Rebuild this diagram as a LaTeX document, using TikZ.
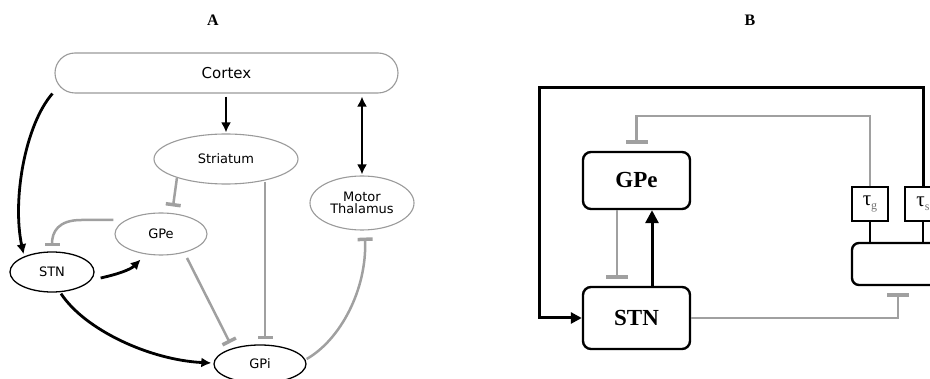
\documentclass[tikz,border=0pt]{standalone}
\usepackage{fontspec}
\setmainfont{Liberation Serif}
\newfontfamily\sansA{DejaVu Sans}
\usetikzlibrary{arrows.meta,shapes.geometric,calc}
\definecolor{inhgray}{HTML}{A0A0A0}
\definecolor{edgegray}{HTML}{9A9A9A}
\begin{document}
\begin{tikzpicture}[x=1pt,y=-1pt,
  ellA/.style={ellipse, draw=edgegray, line width=1.1pt, inner sep=0pt, align=center,
    font=\sansA\fontsize{13}{14}\selectfont},
  ellAk/.style={ellA, draw=black, line width=1.3pt},
  excA/.style={line width=2.8pt, -{Latex[length=10pt,width=10pt]}},
  dblA/.style={line width=2.8pt, {Latex[length=10pt,width=10pt]}-{Latex[length=10pt,width=10pt]}},
  inhA/.style={line width=2.5pt, draw=inhgray, -{Bar[width=15pt,line width=3.5pt]}},
  boxB/.style={draw, line width=2.4pt, rounded corners=8pt, minimum width=107pt,
    font=\bfseries\fontsize{23}{24}\selectfont},
  taubox/.style={draw, line width=1.4pt, minimum width=36pt, minimum height=34pt, inner sep=0pt,
    font=\fontsize{21}{22}\selectfont},
  excB/.style={line width=3pt, -{Triangle[length=13pt,width=13pt]}},
  inhB/.style={line width=2.5pt, draw=inhgray, -{Bar[width=22pt,line width=4pt]}},
  linkB/.style={line width=2.5pt},
  title/.style={font=\bfseries\fontsize{16}{18}\selectfont}
]
\useasboundingbox (0,0) rectangle (930,379);
\clip (0,0) rectangle (930,379);

% ---------- Panel A ----------
\node[title] (tA) at (213,20) {A};
\node[draw=edgegray, line width=1.1pt, rounded corners=20pt, minimum width=343pt,
  minimum height=40pt, font=\sansA\fontsize{15}{16}\selectfont] (cortex) at (226.5,73) {Cortex};
\node[ellA, minimum width=144pt, minimum height=50pt] (striatum) at (226,159) {Striatum};
\node[ellA, minimum width=104pt, minimum height=54pt] (thal) at (362,203) {Motor\\[-2pt]Thalamus};
\node[ellA, minimum width=92pt, minimum height=42pt] (gpe) at (161,234) {GPe};
\node[ellAk, minimum width=84pt, minimum height=40pt] (stn) at (52,272) {STN};
\node[ellAk, minimum width=92pt, minimum height=38pt] (gpi) at (260,364) {GPi};

\draw[excA, shorten <=3pt, shorten >=1pt] (cortex.south -| striatum.north) -- (striatum.north);
\draw[dblA, shorten <=3pt, shorten >=1pt] (cortex.south -| thal.north) -- (thal.north);
\draw[excA] ([shift={(-2,0)}]cortex.south west) .. controls (25,125) and (12,200) .. ([shift={(-1,-2)}]stn.150);
\draw[excA] ([shift={(6,6)}]stn.east) .. controls +(18,-4) and +(-10,10) .. ([shift={(-6,5)}]gpe.235);
\draw[excA] ([shift={(9,1)}]stn.south) .. controls (85,330) and (150,360) .. ([shift={(-2,-1)}]gpi.west);

\draw[inhA] ([shift={(-1,-14)}]gpe.west) -- ++(-32,0) .. controls (58,220) and (52,232) .. ([shift={(0,-5)}]stn.north);
\draw[inhA] (striatum.201.6) -- ([shift={(12,-6)}]gpe.north);
\draw[inhA] ([shift={(39,-3)}]striatum.south) -- ([shift={(5,-5)}]gpi.north);
\draw[inhA] ([shift={(26,24)}]gpe.center) -- ([shift={(-30,-21)}]gpi.center);
\draw[inhA] ([shift={(0,-5)}]gpi.east) .. controls (340,340) and (367,290) .. ([shift={(3,7)}]thal.south);

% ---------- Panel B ----------
\node[title] (tB) at (750,20) {B};
\node[boxB, minimum height=57pt] (gpeB) at (636.5,180.5) {GPe};
\node[boxB, minimum height=62pt] (stnB) at (636.5,318) {STN};
\node[taubox] (taug) at (870,204) {τ\raisebox{-4pt}{\fontsize{12}{12}\selectfont\color{black!55}g}};
\node[taubox] (taus) at (923,204) {τ\raisebox{-4pt}{\fontsize{12}{12}\selectfont\color{black!55}s}};
\node[draw, line width=2.4pt, rounded corners=7pt, minimum width=89pt, minimum height=42pt] (pair) at (896.5,264) {};

\coordinate (corner) at (539,88);
\draw[linkB, line width=3pt, -{Triangle[length=11pt,width=11pt]}] (taus.north) |- (corner) |- (stnB.west);
\draw[inhB] (taug.north) |- ([shift={(0,-35)}]gpeB.north) -- ([shift={(0,-7)}]gpeB.north);
\draw[inhB] ([shift={(-19.5,0)}]gpeB.south) -- ([shift={(-19.5,-7)}]stnB.north);
\draw[excB] ([shift={(15.5,0)}]stnB.north) -- ([shift={(15.5,0)}]gpeB.south);
\draw[inhB] (stnB.east) -| ([shift={(1.5,7)}]pair.south);
\draw[linkB] (taug.south) -- (taug.south |- pair.north);
\draw[linkB] (taus.south) -- (taus.south |- pair.north);
\end{tikzpicture}
\end{document}
